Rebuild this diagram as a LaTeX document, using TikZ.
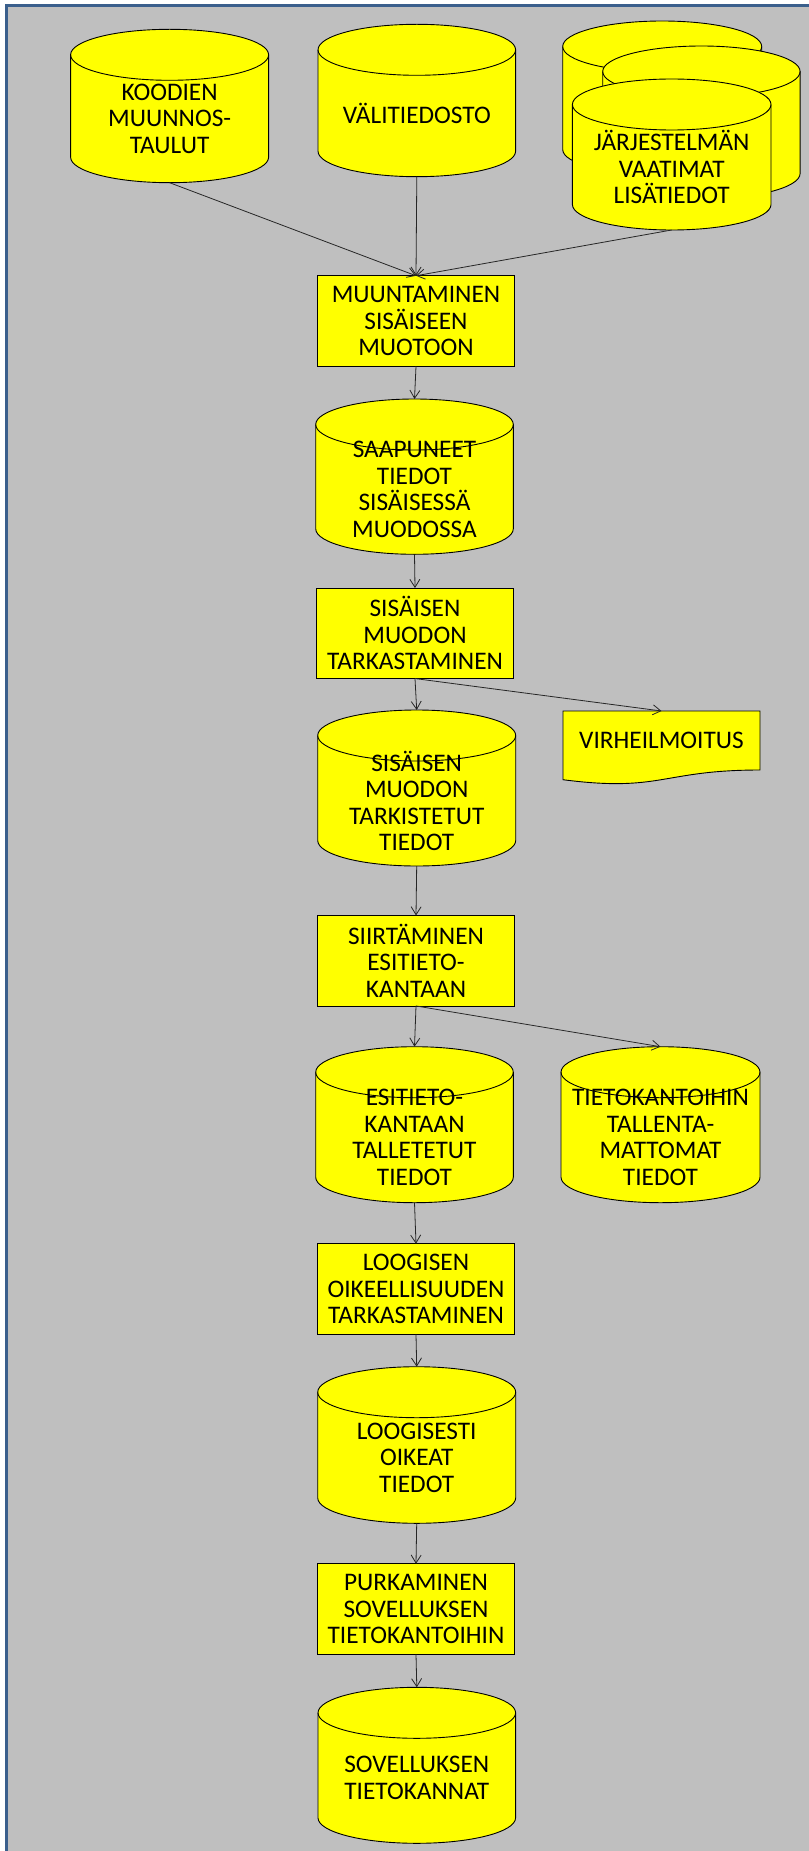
\documentclass[tikz,border=0pt]{standalone}
\usepackage{fontspec}
\setmainfont{Carlito}
\usetikzlibrary{arrows.meta}
\pgfdeclarelayer{background}
\pgfsetlayers{background,main}

\definecolor{panelgray}{HTML}{BFBFBF}
\definecolor{frameblue}{HTML}{3A5F8C}
\definecolor{flowyellow}{HTML}{FFFF00}

% half height of the elliptic ends of a data store
\newcommand\capry{25.5}

% cylinder outline: centre x, top y, bottom y, x radius (y grows downwards)
\newcommand\storeshape[4]{%
  \path[storebody] (#1-#4,-#2-\capry) -- (#1-#4,-#3+\capry)
    arc[start angle=180,end angle=360,x radius=#4pt,y radius=\capry pt]
    -- (#1+#4,-#2-\capry)
    arc[start angle=0,end angle=180,x radius=#4pt,y radius=\capry pt] -- cycle;
  \draw[storeline] (#1-#4,-#2-\capry)
    arc[start angle=180,end angle=360,x radius=#4pt,y radius=\capry pt];
}

% named data store: name, centre x, top y, bottom y, x radius, label
\newcommand\datastore[6]{%
  \storeshape{#2}{#3}{#4}{#5}
  \node[storeframe, minimum width={2*#5pt}, minimum height={(#4-#3)*1pt}]
    (#1) at (#2,{-(#3+#4)/2}) {};
  \node[storetext] (#1-text) at (#2,{-(#3+\capry+#4)/2}) {#6};
}

\tikzset{
  labelfont/.style={font=\fontsize{25.3}{26.5}\selectfont},
  storebody/.style={fill=flowyellow, draw=black, line width=0.9pt},
  storeline/.style={draw=black, line width=0.9pt},
  storeframe/.style={rectangle, inner sep=0pt, outer sep=0pt},
  storetext/.style={labelfont, align=center, inner sep=0pt},
  stepbox/.style={rectangle, draw=black, fill=flowyellow, line width=0.9pt,
    minimum width=197.5pt, minimum height=90.5pt, inner sep=0pt, outer sep=0pt,
    align=center, labelfont},
  docbox/.style={rectangle, inner sep=0pt, outer sep=0pt,
    minimum width=197pt, minimum height=59pt, align=center, labelfont},
  flow/.style={draw=black!85, line width=0.8pt,
    -{Straight Barb[length=8pt,width=10pt,line width=0.8pt]}},
}

\begin{document}
\begin{tikzpicture}[x=1pt,y=1pt]
\useasboundingbox (0,0) rectangle (808,-1851);
\clip (0,0) rectangle (808,-1851);

% panel
\begin{pgfonlayer}{background}
  \fill[white] (0,0) rectangle (808,-1851);
  \filldraw[fill=panelgray, draw=frameblue, line width=2.6pt]
    (6.3,-5.6) rectangle (840,-1880);
\end{pgfonlayer}

% input files
\datastore{koodit}{169.6}{29.3}{182.7}{99}{KOODIEN\\MUUNNOS-\\TAULUT}
\datastore{vali}{416.8}{24.3}{176.7}{98.8}{VÄLITIEDOSTO}
\storeshape{662.2}{21}{175}{99.5}
\storeshape{701.4}{46}{199}{98.7}
\datastore{lisat}{671.7}{79}{230}{99.3}{JÄRJESTELMÄN\\VAATIMAT\\LISÄTIEDOT}

% processing chain
\node[stepbox] (muunto) at (416,-321) {MUUNTAMINEN\\SISÄISEEN\\MUOTOON};
\datastore{saapuneet}{414.5}{399}{554.3}{98.8}{SAAPUNEET\\TIEDOT\\SISÄISESSÄ\\MUODOSSA}
\node[stepbox] (tarkastus) at (415,-633.3) {SISÄISEN\\MUODON\\TARKASTAMINEN};
\datastore{tarkistetut}{416.7}{710}{866}{99}{SISÄISEN\\MUODON\\TARKISTETUT\\TIEDOT}

% error report (document symbol)
\node[docbox] (virhe) at (661.5,-740.5) {VIRHEILMOITUS};
\begin{pgfonlayer}{background}
  \path[storebody] (virhe.north west) -- (virhe.north east) -- (virhe.south east)
    .. controls (virhe.south) and ([yshift=-22.5pt]virhe.south)
    .. ([yshift=-9.7pt]virhe.south west) -- cycle;
\end{pgfonlayer}

\node[stepbox] (siirto) at (416,-960.7) {SIIRTÄMINEN\\ESITIETO-\\KANTAAN};
\datastore{esitieto}{414.5}{1046.7}{1202.7}{98.8}{ESITIETO-\\KANTAAN\\TALLETETUT\\TIEDOT}
\datastore{hylatyt}{660.5}{1046.7}{1202.7}{99.5}{TIETOKANTOIHIN\\TALLENTA-\\MATTOMAT\\TIEDOT}
\node[stepbox] (loogisuus) at (416,-1289) {LOOGISEN\\OIKEELLISUUDEN\\TARKASTAMINEN};
\datastore{oikeat}{416.7}{1366.7}{1523.3}{99}{LOOGISESTI\\OIKEAT\\TIEDOT}
\node[stepbox] (purku) at (416,-1609) {PURKAMINEN\\SOVELLUKSEN\\TIETOKANTOIHIN};
\datastore{sovellus}{416.8}{1687.3}{1843.3}{98.8}{SOVELLUKSEN\\TIETOKANNAT}

% data flows
\draw[flow] (koodit.south) -- (muunto.north);
\draw[flow] (vali.south) -- (muunto.north);
\draw[flow] (lisat.south) -- (muunto.north);
\draw[flow] (muunto.south) -- (saapuneet.north);
\draw[flow] (saapuneet.south) -- (tarkastus.north);
\draw[flow] (tarkastus.south) -- (tarkistetut.north);
\draw[flow] (tarkastus.south) -- (virhe.north);
\draw[flow] (tarkistetut.south) -- (siirto.north);
\draw[flow] (siirto.south) -- (esitieto.north);
\draw[flow] (siirto.south) -- (hylatyt.north);
\draw[flow] (esitieto.south) -- (loogisuus.north);
\draw[flow] (loogisuus.south) -- (oikeat.north);
\draw[flow] (oikeat.south) -- (purku.north);
\draw[flow] (purku.south) -- (sovellus.north);
\end{tikzpicture}
\end{document}
